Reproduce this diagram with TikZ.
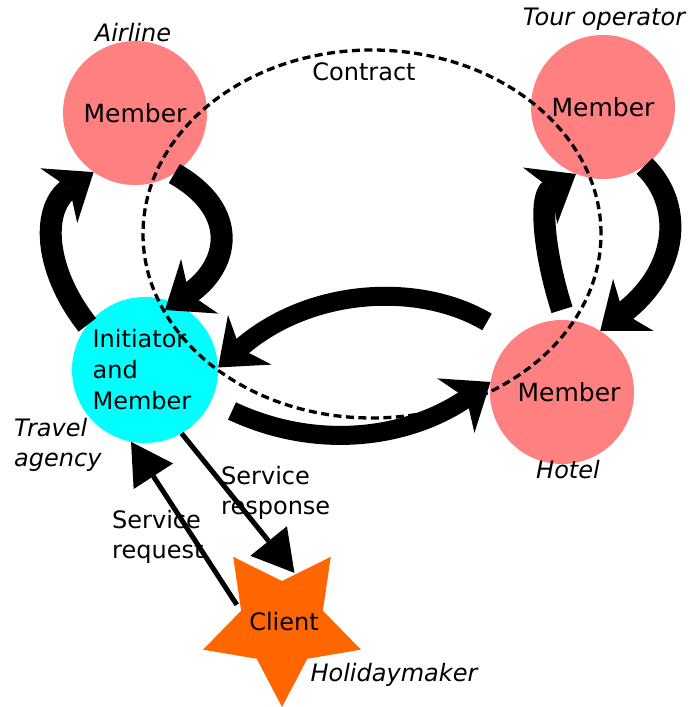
\documentclass[tikz,border=0pt]{standalone}
\usepackage{fontspec}
\setmainfont{DejaVu Sans}
\usetikzlibrary{arrows.meta,calc,shapes.geometric}
\definecolor{memberred}{HTML}{FF8080}
\definecolor{initcyan}{HTML}{00FFFF}
\definecolor{clientorange}{HTML}{FF6600}
\begin{document}
\begin{tikzpicture}[x=1pt,y=1pt,
  lbl/.style={font=\fontsize{24}{30}\selectfont,inner sep=0pt},
  ilbl/.style={font=\fontsize{24}{30}\selectfont\itshape,inner sep=0pt,align=left},
  member/.style={circle,fill=memberred,minimum size=144pt,inner sep=0pt,font=\fontsize{25}{30}\selectfont},
  initiator/.style={circle,fill=initcyan,minimum size=146pt,inner sep=0pt,align=left,font=\fontsize{24}{31}\selectfont},
  contractstyle/.style={ellipse,draw=black,line width=3.3pt,dash pattern=on 8pt off 4.5pt,minimum width=458pt,minimum height=368pt,inner sep=0pt},
  fat/.style={line width=22pt,-{Stealth[length=42pt,width=66pt,inset=13pt,line width=0pt]}},
  thinarrow/.style={line width=5pt,-{Triangle[length=41pt,width=47pt,line width=0pt]}}
]
\useasboundingbox (0,0) rectangle (689,707);

% members
\node[member] (air) at (135,594) {Member};
\node[member] (tour) at (603,600) {Member};
\node[member] (hotel) at (562,315) {\hspace*{14pt}Member};
\node[initiator] (init) at (145,337) {Initiator\\and\\Member\hspace*{6pt}};

% client star
\fill[clientorange] (282,83) +(-90:83) -- +(-54:43) -- +(-18:83) -- +(18:43) -- +(54:83) -- +(90:43) -- +(126:83) -- +(162:43) -- +(198:83) -- +(234:43) -- cycle;
\node[circle,minimum size=100pt,inner sep=0pt,font=\fontsize{24}{30}\selectfont] (client) at (284,85) {Client};

% contract ellipse
\node[contractstyle] (contract) at (372,473) {};
\node[lbl] (contractlbl) at (364,635) {Contract};

% fat arrows
\draw[fat] (init.142) .. controls (42,440) and (42,500) .. (air.235);
\draw[fat] (air.-57) .. controls (242,495) and (228,440) .. ($(init.center)+(20,60)$);
\draw[fat] ($(hotel.90)+(0,10)$) .. controls (545,450) and (538,510) .. (tour.248);
\draw[fat] (tour.-55) .. controls (682,505) and (682,440) .. (hotel.58);
\draw[fat,line width=19pt] ($(hotel.center)+(-75,70)$) .. controls (420,425) and (310,420) .. (init.2);
\draw[fat,line width=19pt] ($(init.center)+(87,-41)$) .. controls (320,255) and (410,270) .. (hotel.172);

% service arrows
\draw[thinarrow] (client.160) -- (init.-101);
\draw[thinarrow] (init.-60) -- (client.78);

% labels
\node[ilbl] (airlbl) at (133,674) {Airline};
\node[ilbl] (tourlbl) at (604,688) {Tour operator};
\node[ilbl] (hotellbl) at (568,237) {Hotel};
\node[ilbl,anchor=west] (travellbl) at (14,262) {Travel\\agency};
\node[ilbl] (holidaylbl) at (394,32) {Holidaymaker};
\node[lbl,anchor=west,align=left] (resplbl) at (221,214) {Service\\response};
\node[lbl,anchor=west,align=left] (reqlbl) at (112,170) {Service\\request};
\end{tikzpicture}
\end{document}
